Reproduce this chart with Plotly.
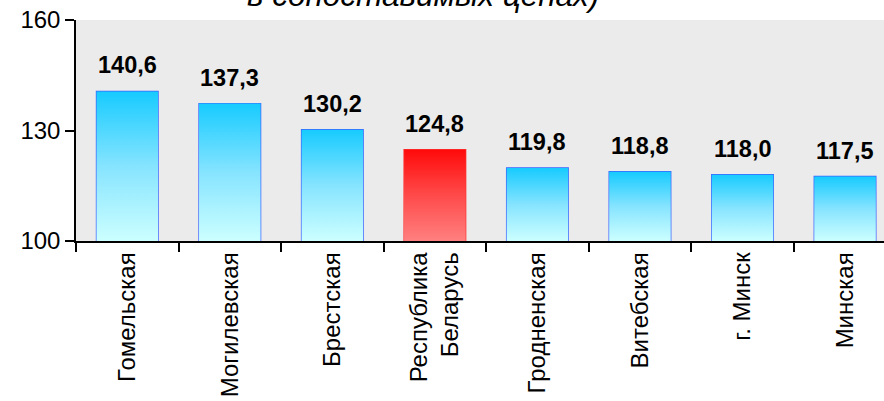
import plotly.graph_objects as go

regions = ["Гомельская", "Могилевская", "Брестская", "Республика<br>Беларусь",
           "Гродненская", "Витебская", "г. Минск", "Минская"]
values = [140.6, 137.3, 130.2, 124.8, 119.8, 118.8, 118.0, 117.5]
highlight = "Республика<br>Беларусь"

font = "Liberation Sans, Arial, sans-serif"
base = 100
half = 0.3

fig = go.Figure()

# gradient fills drawn as filled polygons, outline bars on top
for i, (name, v) in enumerate(zip(regions, values)):
    if name == highlight:
        scale = [[0, "#ff8080"], [0.5, "#ff4a4a"], [1, "#ff0a0a"]]
    else:
        scale = [[0, "#ccffff"], [0.5, "#86e4ff"], [1, "#17cbff"]]
    fig.add_trace(go.Scatter(
        x=[i - half, i + half, i + half, i - half, i - half],
        y=[base, base, v, v, base],
        mode="lines", line=dict(width=0), fill="toself",
        fillgradient=dict(type="vertical", colorscale=scale),
        hoverinfo="skip", showlegend=False,
    ))

edge = ["#ff3030" if r == highlight else "#3a62ff" for r in regions]
fig.add_trace(go.Bar(
    x=list(range(len(regions))), y=[v - base for v in values], base=base,
    width=2 * half, marker=dict(color="rgba(0,0,0,0)", line=dict(color=edge, width=1.4)),
    showlegend=False,
))

for i, v in enumerate(values):
    fig.add_annotation(
        x=i, y=v, text="<b>" + f"{v:.1f}".replace(".", ",") + "</b>",
        showarrow=False, yanchor="bottom", yshift=11,
        font=dict(family=font, size=23.5, color="black"),
    )

# last line of a longer title, cut by the top edge as in the source image
fig.add_annotation(
    x=0.43, xref="paper", y=1, yref="paper", yanchor="bottom", yshift=5,
    text="<i>в сопоставимых ценах)</i>", showarrow=False,
    font=dict(family=font, size=31.5, color="black"),
)

fig.update_xaxes(
    range=[-0.5, 7.38], tickvals=list(range(len(regions))), ticktext=regions,
    tickangle=-90, ticks="", showline=True, linecolor="black", linewidth=1.5,
    showgrid=False, zeroline=False, ticklabeloverflow="allow",
    minor=dict(tick0=0.5, dtick=1, ticks="outside", ticklen=9, tickcolor="black", tickwidth=1.5),
    tickfont=dict(family=font, size=24, color="black"),
)
fig.update_yaxes(
    range=[100, 160], tickvals=[100, 130, 160], ticks="outside", ticklen=9,
    ticksuffix=" ",
    tickcolor="black", tickwidth=1.5, showline=True, linecolor="black", linewidth=1.5,
    showgrid=False, zeroline=False, ticklabeloverflow="allow",
    tickfont=dict(family=font, size=24, color="black"),
)

fig.update_layout(
    width=884, height=401,
    margin=dict(l=76, r=0, t=20, b=160, autoexpand=False),
    plot_bgcolor="#ebebeb", paper_bgcolor="white",
    bargap=0.4,
)

# drop the browser's default 8px body margin so the figure fills the window
fig.write_html("out.html", config={"displayModeBar": False},
               post_script="document.body.style.margin='0';")
